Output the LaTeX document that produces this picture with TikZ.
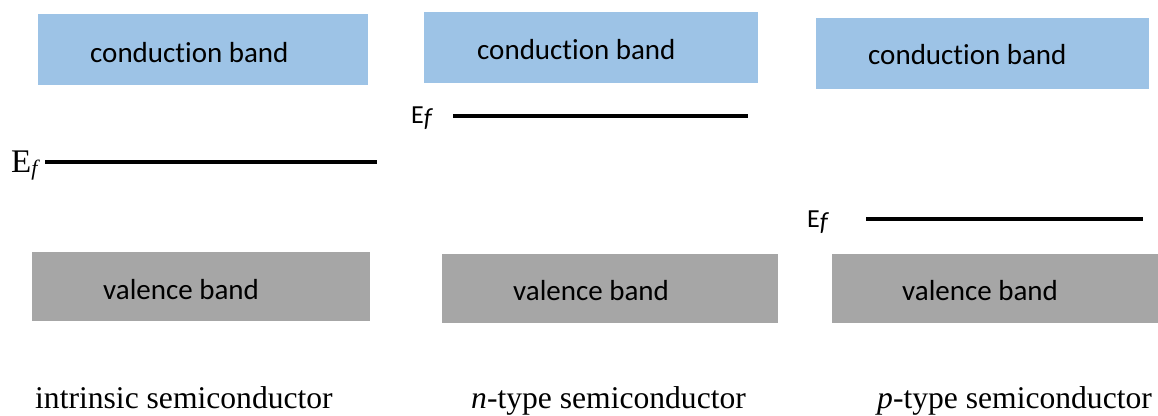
\documentclass[tikz,border=0pt]{standalone}
\usepackage{fontspec}
\setmainfont{Liberation Serif}
\newfontfamily\calfont[Ligatures={NoCommon,NoRare,NoDiscretionary}]{Carlito}
\definecolor{cbblue}{HTML}{9DC3E6}
\definecolor{vbgray}{HTML}{A6A6A6}
\begin{document}
\begin{tikzpicture}[x=1pt,y=-1pt,
  cband/.style={fill=cbblue,draw=none,anchor=north west,inner sep=0pt},
  vband/.style={fill=vbgray,draw=none,anchor=north west,inner sep=0pt},
  bandtext/.style={font=\calfont\fontsize{29}{34}\selectfont,anchor=base west,inner sep=0pt},
  captext/.style={font=\fontsize{31.6}{36}\selectfont,anchor=base west,inner sep=0pt},
  eflabel/.style={font=\calfont\fontsize{26}{30}\selectfont,anchor=base west,inner sep=0pt},
  efline/.style={line width=3.5pt,black}]
\useasboundingbox (0,0) rectangle (1158,415);
% panel 1
\node[cband,minimum width=330pt,minimum height=71pt] (cb1) at (38,14) {};
\node[bandtext] (ct1) at (90,62) {conduction band};
\node[vband,minimum width=338pt,minimum height=69pt] (vb1) at (32,252) {};
\node[bandtext] (vt1) at (103,299) {valence band};
\node[font=\fontsize{33}{36}\selectfont,anchor=base west,inner sep=0pt] (ef1) at (11,172) {E\raisebox{-0.22ex}{\fontsize{22}{24}\selectfont\itshape f}};
\coordinate (e1a) at (45,162);
\coordinate (e1b) at (377,162);
\draw[efline] (e1a) -- (e1b);
\node[captext] (cap1) at (35,408) {intrinsic semiconductor};
% panel 2
\node[cband,minimum width=334pt,minimum height=71pt] (cb2) at (424,12) {};
\node[bandtext] (ct2) at (477,59) {conduction band};
\node[vband,minimum width=336pt,minimum height=69pt] (vb2) at (442,254) {};
\node[bandtext] (vt2) at (513,300) {valence band};
\node[eflabel] (ef2) at (411,123) {E\raisebox{-0.3ex}{\itshape f}};
\coordinate (e2a) at (453,116);
\coordinate (e2b) at (748,116);
\draw[efline] (e2a) -- (e2b);
\node[captext] (cap2) at (471,408) {\textit{n}-type semiconductor};
% panel 3
\node[cband,minimum width=333pt,minimum height=71pt] (cb3) at (816,18) {};
\node[bandtext] (ct3) at (868,64) {conduction band};
\node[vband,minimum width=326pt,minimum height=69pt] (vb3) at (832,254) {};
\node[bandtext] (vt3) at (902,300) {valence band};
\node[eflabel] (ef3) at (807,227) {E\raisebox{-0.3ex}{\itshape f}};
\coordinate (e3a) at (866,219);
\coordinate (e3b) at (1143,219);
\draw[efline] (e3a) -- (e3b);
\node[captext] (cap3) at (877,408) {\textit{p}-type semiconductor};
\end{tikzpicture}
\end{document}
